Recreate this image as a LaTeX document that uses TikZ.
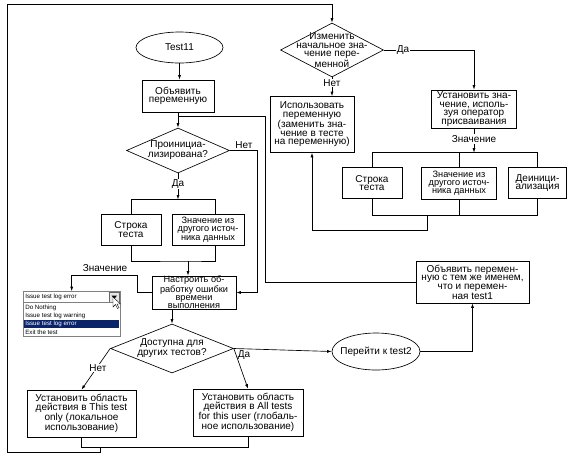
\documentclass[tikz,border=0pt]{standalone}
\usepackage{fontspec}
\setmainfont{Liberation Sans}
\usetikzlibrary{shapes.geometric}
\usetikzlibrary{arrows.meta}

\newcommand{\blokfont}{\fontsize{10}{8.6}\selectfont}
\newcommand{\tesnofont}{\fontsize{9.2}{8.3}\selectfont}
\newcommand{\spisokfont}{\fontsize{6.2}{7}\selectfont}
\definecolor{vybor}{RGB}{10,36,106}

\tikzset{
  blok/.style={draw, rectangle, align=center, inner sep=0pt, font=\blokfont},
  romb/.style={draw, diamond, align=center, inner xsep=-20pt, inner ysep=-8pt, font=\blokfont},
  oval/.style={draw, ellipse, align=center, inner xsep=-12pt, inner ysep=0pt, font=\blokfont},
  metka/.style={font=\blokfont, inner sep=1pt},
  strel/.style={-{Latex[length=4.5pt,width=3pt]}},
  punkt/.style={anchor=west, inner sep=0pt, font=\spisokfont},
}

\begin{document}
\begin{tikzpicture}[x=1pt, y=-1pt, line width=0.65pt]
  \useasboundingbox (0,0) rectangle (580,456);

  % левая ветка
  \node[oval, minimum width=87pt, minimum height=31pt] (test) at (179.5,47.5) {Test11};
  \node[blok, minimum width=72pt, minimum height=32pt] (obyav) at (178,96) {Объявить\\переменную};
  \node[romb, minimum width=103pt, minimum height=45pt] (proinit) at (178,150.5) {Проинициа-\\лизирована?};
  \node[blok, minimum width=60pt, minimum height=31pt] (stroka) at (131,229.5) {Строка\\теста};
  \node[blok, minimum width=72pt, minimum height=31pt, font=\tesnofont] (istochnik) at (208,229.5) {Значение из\\другого источ-\\ника данных};
  \node[blok, minimum width=84pt, minimum height=31pt, font=\tesnofont] (nastr) at (194,292.5) {Настроить об-\\работку ошибки\\времени\\выполнения};

  % список
  \node[draw=black!50, minimum width=97pt, minimum height=11pt, inner sep=0pt] (pole) at (71.7,297) {};
  \node[punkt] (tekst) at (25,297) {Issue test log error};
  \node[draw=black!60, fill=black!10, minimum width=10pt, minimum height=10pt, inner sep=0pt, line width=0.4pt] (knopka) at (114.3,297) {};
  \fill (111.5,295.5) -- (117,295.5) -- (114.3,299) -- cycle;
  \node[draw=black!50, minimum width=97pt, minimum height=34pt, inner sep=0pt] (spisok) at (71.7,319.8) {};
  \node[fill=vybor, minimum width=95pt, minimum height=8pt, inner sep=0pt] (vydel) at (71.7,323.7) {};
  \node[punkt] (p1) at (25,307.5) {Do Nothing};
  \node[punkt] (p2) at (25,315.7) {Issue test log warning};
  \node[punkt, text=white] (p3) at (25,323.7) {Issue test log error};
  \node[punkt] (p4) at (25,332) {Exit the test};
  \draw[fill=white, line width=0.4pt] (113,297) -- ++(0,10) -- ++(2.5,-2.5) -- ++(2,4) -- ++(1.5,-0.8) -- ++(-2,-3.7) -- ++(3.5,0) -- cycle;

  % нижняя часть
  \node[romb, minimum width=123pt, minimum height=49pt] (dostup) at (172,348.5) {Доступна для\\других тестов?};
  \node[blok, minimum width=109pt, minimum height=47pt] (lokal) at (81.5,413.5) {Установить область\\действия в This test\\only (локальное\\использование)};
  \node[blok, minimum width=110pt, minimum height=47pt] (global) at (248,412.5) {Установить область\\действия в All tests\\for this user (глобаль-\\ное использование)};
  \node[oval, minimum width=88pt, minimum height=37pt] (pereiti) at (376,351.5) {Перейти к test2};
  \node[blok, minimum width=113pt, minimum height=42pt] (obyav2) at (472.5,282) {Объявить перемен-\\ную с тем же именем,\\что и перемен-\\ная test1};

  % правая ветка
  \node[romb, minimum width=103pt, minimum height=54pt] (izmen) at (332,50) {Изменить\\начальное зна-\\чение пере-\\менной};
  \node[blok, minimum width=84pt, minimum height=56pt] (ispolz) at (312,124.5) {Использовать\\переменную\\(заменить зна-\\чение в тесте\\на переменную)};
  \node[blok, minimum width=85pt, minimum height=38pt] (ustan) at (474,109) {Установить зна-\\чение, исполь-\\зуя оператор\\присваивания};
  \node[blok, minimum width=60pt, minimum height=31pt] (stroka2) at (372,183) {Строка\\теста};
  \node[blok, minimum width=75pt, minimum height=32pt, font=\tesnofont] (istochnik2) at (459,183) {Значение из\\другого источ-\\ника данных};
  \node[blok, minimum width=58pt, minimum height=31pt] (deinit) at (537.5,183) {Деиници-\\ализация};

  \coordinate (j1) at (178,116);
  \coordinate (k1) at (265,116);
  \coordinate (j2) at (178,199.5);
  \coordinate (j3) at (188,261);
  \coordinate (j5) at (100,447);
  \coordinate (j6) at (474,152.7);
  \coordinate (j7) at (427,215.5);

  % связи слева
  \draw[strel] (test.south) -- (test.south |- obyav.north);
  \draw[strel] (obyav.south) -- (proinit.north);
  \draw (obyav2.west) -| (k1) -- (j1);
  \draw[strel] (proinit.east) -- ++(27,0) |- (nastr.east);
  \node[metka] (net1) at (244,145.5) {Нет};
  \draw[strel] (proinit.south) -- (j2);
  \node[metka, fill=white] (da1) at (178,184) {Да};
  \draw (stroka.north) |- (j2) -| ([xshift=7pt]istochnik.north);
  \draw (stroka.south) |- (j3) -| ([xshift=7pt]istochnik.south);
  \draw[strel] (j3) -- (j3 |- nastr.north);
  \draw[strel] (nastr.west) -- (137,292.5) -- (137,275) -| (pole.north);
  \node[metka] (znach1) at (105,268) {Значение};

  % связи снизу
  \draw[strel] (nastr.south -| dostup.north) -- (dostup.north);
  \draw[strel] (dostup.west) -- (lokal.north);
  \node[metka, fill=white] (net2) at (98,368) {Нет};
  \draw[strel] (dostup.east) -- (global.north);
  \node[metka] (da2) at (244,355) {Да};
  \draw[strel] (dostup.east) -- (pereiti.west);
  \draw[strel] (pereiti.east) -| (obyav2.south);
  \draw (lokal.south) |- (j5) -| (global.south);
  \draw[strel] (j5) -- (100,452.7) -| (7,4) -| (izmen.north);

  % связи справа
  \draw[strel] (izmen.east) -| (ustan.north);
  \node[metka, fill=white] (da3) at (403,50) {Да};
  \draw[strel] (izmen.south) -- (izmen.south |- ispolz.north);
  \node[metka, fill=white] (net3) at (332,83) {Нет};
  \draw[strel] (ustan.south) -- (j6);
  \node[metka, fill=white] (znach2) at (474,139) {Значение};
  \draw (stroka2.north) |- (j6) -| (deinit.north);
  \draw (istochnik2.north) -- (istochnik2.north |- j6);
  \draw (stroka2.south) |- (j7) -| (deinit.south);
  \draw (istochnik2.south) -- (istochnik2.south |- j7);
  \draw[strel] (j7) -- (427,230) -| (ispolz.south);
\end{tikzpicture}
\end{document}
